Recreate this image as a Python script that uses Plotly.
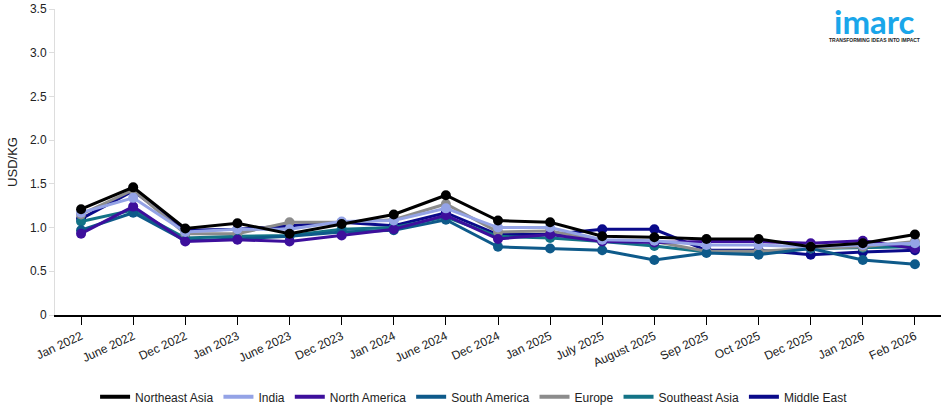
import plotly.graph_objects as go

categories = ["Jan 2022", "June 2022", "Dec 2022", "Jan 2023", "June 2023", "Dec 2023",
              "Jan 2024", "June 2024", "Dec 2024", "Jan 2025", "July 2025", "August 2025",
              "Sep 2025", "Oct 2025", "Dec 2025", "Jan 2026", "Feb 2026"]

northeast_asia = [1.21, 1.46, 0.99, 1.05, 0.93, 1.04, 1.15, 1.37, 1.08, 1.06, 0.90, 0.89, 0.87, 0.87, 0.78, 0.82, 0.92]
india          = [1.17, 1.34, 0.95, 0.98, 0.98, 1.07, 1.08, 1.22, 1.00, 1.00, 0.86, 0.85, 0.80, 0.80, 0.78, 0.80, 0.82]
north_america  = [0.93, 1.24, 0.84, 0.86, 0.84, 0.91, 0.98, 1.14, 0.87, 0.92, 0.84, 0.83, 0.84, 0.84, 0.82, 0.85, 0.76]
south_america  = [0.97, 1.17, 0.85, 0.87, 0.90, 0.95, 0.97, 1.09, 0.78, 0.76, 0.74, 0.63, 0.71, 0.69, 0.76, 0.63, 0.58]
europe         = [1.15, 1.43, 0.93, 0.93, 1.06, 1.06, 1.09, 1.27, 0.95, 0.96, 0.85, 0.84, 0.73, 0.73, 0.76, 0.78, 0.84]
southeast_asia = [1.07, 1.20, 0.88, 0.90, 0.91, 0.98, 1.00, 1.12, 0.90, 0.88, 0.84, 0.79, 0.72, 0.72, 0.76, 0.77, 0.78]
middle_east    = [1.10, 1.42, 0.97, 0.98, 1.02, 1.06, 1.02, 1.17, 0.92, 0.92, 0.98, 0.98, 0.74, 0.74, 0.69, 0.72, 0.74]

y_tick_vals = [0, 0.5, 1.0, 1.5, 2.0, 2.5, 3.0, 3.5]
y_tick_text = ["0", "0.5", "1.0", "1.5", "2.0", "2.5", "3.0", "3.5"]

series = [
    ("Northeast Asia", northeast_asia, "#000000"),
    ("India", india, "#94a3e6"),
    ("North America", north_america, "#3d0f9c"),
    ("South America", south_america, "#0e5a8a"),
    ("Europe", europe, "#8c8c8c"),
    ("Southeast Asia", southeast_asia, "#137386"),
    ("Middle East", middle_east, "#0a0a8a"),
]

fig = go.Figure()
# data traces: draw in reverse so Northeast Asia sits on top
for name, vals, color in reversed(series):
    fig.add_trace(go.Scatter(
        x=categories, y=vals, mode="lines+markers", name=name,
        line=dict(color=color, width=3),
        marker=dict(color=color, size=10),
        showlegend=False,
    ))
# legend-only traces (line symbols)
for name, vals, color in series:
    fig.add_trace(go.Scatter(
        x=[None], y=[None], mode="lines", name=name,
        line=dict(color=color, width=4),
    ))

fig.update_layout(
    width=950, height=414,
    margin=dict(l=55, r=9, t=9, b=99, autoexpand=False),
    paper_bgcolor="white", plot_bgcolor="white",
    font=dict(family="Liberation Sans, Arial, sans-serif", size=12, color="#222222"),
    showlegend=True,
    legend=dict(orientation="h", x=0.473, xanchor="center", y=-0.22, yanchor="top",
                font=dict(size=12, color="#222222"), itemwidth=30, tracegroupgap=0),
    xaxis=dict(type="category", categoryorder="array", categoryarray=categories,
               range=[-0.5, len(categories) - 0.5], automargin=False,
               showline=True, linecolor="#000000", linewidth=1.5,
               ticks="outside", ticklen=8, tickcolor="#000000", tickwidth=1,
               tickangle=-25, showgrid=False, zeroline=False,
               tickfont=dict(size=12, color="#222222")),
    yaxis=dict(range=[0, 3.5], tickvals=y_tick_vals, ticktext=y_tick_text, automargin=True,
               showline=True, linecolor="#dddddd", linewidth=1,
               ticks="outside", ticklen=5, tickcolor="#dddddd",
               showgrid=False, zeroline=False,
               title=dict(text="USD/KG", font=dict(size=13, color="#222222"), standoff=9),
               tickfont=dict(size=12, color="#222222")),
)

logo_x = (874 - 55) / 886
fig.add_annotation(xref="paper", yref="paper", x=logo_x, y=1.0, xanchor="center", yanchor="top",
                   yshift=10, text="<b>imarc</b>", showarrow=False,
                   font=dict(family="Lato, Arial, sans-serif", size=33, color="#1aa6ea"))
fig.add_annotation(xref="paper", yref="paper", x=logo_x, y=1.0, xanchor="center", yanchor="top",
                   yshift=-26, text="<b>TRANSFORMING IDEAS INTO IMPACT</b>", showarrow=False,
                   font=dict(family="Liberation Sans, Arial, sans-serif", size=5, color="#222222"))

fig.write_html("out.html", config={"displayModeBar": False},
               post_script="document.body.style.margin='0';")
